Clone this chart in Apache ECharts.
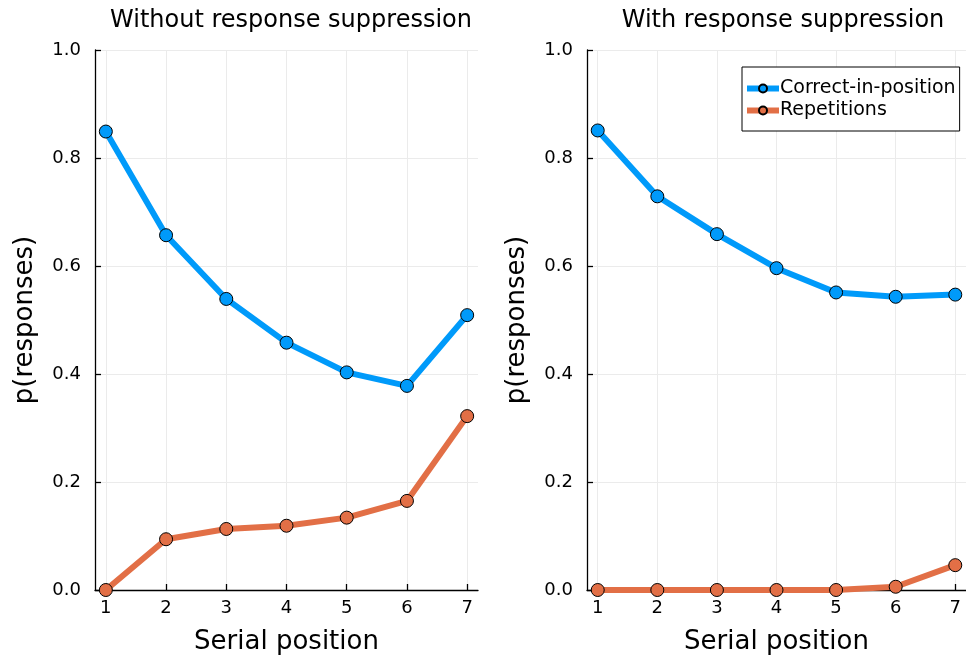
<!DOCTYPE html>
<html>
<head>
<meta charset="utf-8">
<script src="https://cdn.jsdelivr.net/npm/echarts@6/dist/echarts.min.js"></script>
<style>
  html, body { margin: 0; padding: 0; background: #fff; }
  #chart { width: 966px; height: 660px; }
</style>
</head>
<body>
<div id="chart"></div>
<script>
// Serial positions and recall proportions for the two conditions
const positions = [1, 2, 3, 4, 5, 6, 7];

const withoutCorrect = [0.849, 0.657, 0.539, 0.458, 0.403, 0.378, 0.509];
const withoutRepetitions = [0.0, 0.094, 0.113, 0.119, 0.134, 0.165, 0.322];

const withCorrect = [0.851, 0.729, 0.659, 0.596, 0.551, 0.543, 0.547];
const withRepetitions = [0.0, 0.0, 0.0, 0.0, 0.0, 0.006, 0.046];

const panelTitles = ['Without response suppression', 'With response suppression'];
const seriesNames = ['Correct-in-position', 'Repetitions'];
const colors = ['#009AFA', '#E26F46'];

const FONT = 'DejaVu Sans';

const pairs = (ys) => positions.map((x, i) => [x, ys[i]]);

function xAxisFor(gridIndex) {
  return {
    type: 'value',
    gridIndex,
    min: 0.82,
    max: 7.18,
    name: 'Serial position',
    nameLocation: 'middle',
    nameGap: 39,
    nameTextStyle: { fontFamily: FONT, fontSize: 26, color: '#000' },
    axisLine: { show: true, onZero: false, lineStyle: { color: '#000', width: 1.3 } },
    axisTick: { show: true, inside: true, length: 6, customValues: positions, lineStyle: { color: '#000', width: 1.3 } },
    axisLabel: { customValues: positions, margin: 9, fontFamily: FONT, fontSize: 18, color: '#000' },
    splitLine: { show: true, lineStyle: { color: '#ebebeb', width: 1 } }
  };
}

function yAxisFor(gridIndex) {
  return {
    type: 'value',
    gridIndex,
    min: 0,
    max: 1,
    interval: 0.2,
    name: 'p(responses)',
    nameLocation: 'middle',
    nameGap: 57,
    nameTextStyle: { fontFamily: FONT, fontSize: 26, color: '#000' },
    axisLine: { show: true, lineStyle: { color: '#000', width: 1.3 } },
    axisTick: { show: true, inside: true, length: 6, lineStyle: { color: '#000', width: 1.3 } },
    axisLabel: {
      margin: 14, fontFamily: FONT, fontSize: 18, color: '#000',
      formatter: (v) => v.toFixed(1)
    },
    splitLine: { show: true, lineStyle: { color: '#ebebeb', width: 1 } }
  };
}

function lineSeries(name, ys, idx, colorIdx) {
  return {
    name,
    type: 'line',
    xAxisIndex: idx,
    yAxisIndex: idx,
    data: pairs(ys),
    symbol: 'circle',
    symbolSize: 13,
    showSymbol: true,
    clip: true,
    lineStyle: { color: colors[colorIdx], width: 6 },
    itemStyle: { color: colors[colorIdx], borderColor: '#000', borderWidth: 1 },
    emphasis: { disabled: true },
    animation: false
  };
}

const chart = echarts.init(document.getElementById('chart'), null, { renderer: 'canvas' });

const titleStyle = { fontFamily: FONT, fontSize: 24, fontWeight: 'normal', color: '#000' };

chart.setOption({
  backgroundColor: '#fff',
  animation: false,
  title: [
    { text: panelTitles[0], left: 286, top: 4, textAlign: 'center', textStyle: titleStyle },
    { text: panelTitles[1], left: 778, top: 4, textAlign: 'center', textStyle: titleStyle }
  ],
  grid: [
    { left: 95, top: 50, width: 383, height: 540 },
    { left: 587, top: 50, width: 383, height: 540 }
  ],
  xAxis: [xAxisFor(0), xAxisFor(1)],
  yAxis: [yAxisFor(0), yAxisFor(1)],
  legend: {
    data: seriesNames,
    orient: 'vertical',
    left: 742,
    top: 67,
    padding: [12, 4, 11, 2],
    itemGap: 3,
    itemWidth: 32,
    itemHeight: 10,
    backgroundColor: '#fff',
    borderColor: '#000',
    borderWidth: 1,
    borderRadius: 0,
    selectedMode: false,
    lineStyle: { width: 6 },
    textStyle: { fontFamily: FONT, fontSize: 19, color: '#000', padding: [0, 0, 0, -4] }
  },
  series: [
    lineSeries(seriesNames[0], withoutCorrect, 0, 0),
    lineSeries(seriesNames[1], withoutRepetitions, 0, 1),
    lineSeries(seriesNames[0], withCorrect, 1, 0),
    lineSeries(seriesNames[1], withRepetitions, 1, 1)
  ]
});
</script>
</body>
</html>
